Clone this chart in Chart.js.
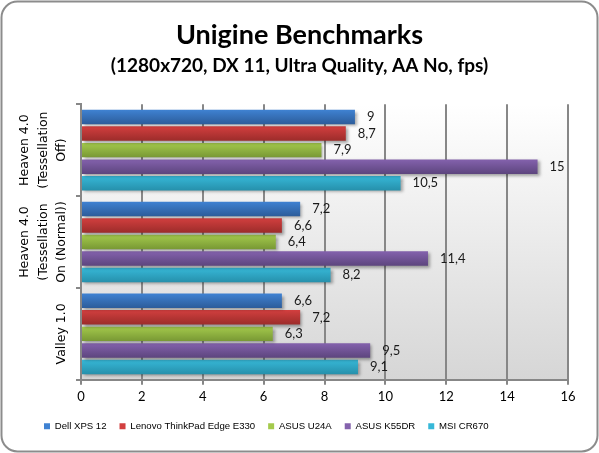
<!DOCTYPE html>
<html>
<head>
<meta charset="utf-8">
<script src="https://cdn.jsdelivr.net/npm/chart.js@4.4.0/dist/chart.umd.min.js"></script>
<style>
  body { margin: 0; background: #fff; }
  #wrap { width: 599px; height: 453px; }
</style>
</head>
<body>
<div id="wrap"><canvas id="bench" width="599" height="453"></canvas></div>
<script>
// data
var categories = [
  ["Heaven 4.0", "(Tessellation", "Off)"],
  ["Heaven 4.0", "(Tessellation", "On (Normal))"],
  ["Valley 1.0"]
];
var seriesNames = ["Dell XPS 12", "Lenovo ThinkPad Edge E330", "ASUS U24A", "ASUS K55DR", "MSI CR670"];
var dellXps12 = [9, 7.2, 6.6];
var lenovoE330 = [8.7, 6.6, 7.2];
var asusU24A = [7.9, 6.4, 6.3];
var asusK55DR = [15, 11.4, 9.5];
var msiCR670 = [10.5, 8.2, 9.1];
var xTicks = [0, 2, 4, 6, 8, 10, 12, 14, 16];

// top / bottom colours of the bar gradients
var barColours = [
  ["#3f82d2", "#2c5c9a"],
  ["#d23f3f", "#9c2c2a"],
  ["#a4ca4c", "#789834"],
  ["#8462ad", "#5d457e"],
  ["#37b8d8", "#2690ab"]
];

var allSeries = [dellXps12, lenovoE330, asusU24A, asusK55DR, msiCR670];

var frame = {
  id: "frame",
  beforeDraw: function(chart) {
    var c = chart.ctx;
    var a = chart.chartArea;
    c.save();
    c.fillStyle = "#fff";
    c.fillRect(0, 0, chart.width, chart.height);
    c.beginPath();
    c.roundRect(1.5, 1.5, chart.width - 3, chart.height - 3, 16);
    c.lineWidth = 2;
    c.strokeStyle = "#8c8c8c";
    c.stroke();
    var g = c.createLinearGradient(0, a.top, 0, a.bottom);
    g.addColorStop(0, "#ffffff");
    g.addColorStop(1, "#d6d6d6");
    c.fillStyle = g;
    c.fillRect(a.left, a.top, a.right - a.left, a.bottom - a.top);
    c.restore();
  },
  beforeDatasetDraw: function(chart, args) {
    var c = chart.ctx;
    var cols = barColours[args.index];
    args.meta.data.forEach(function(el) {
      var g = c.createLinearGradient(0, el.y - el.height / 2, 0, el.y + el.height / 2);
      g.addColorStop(0, cols[0]);
      g.addColorStop(1, cols[1]);
      el.options = Object.assign({}, el.options, { backgroundColor: g });
    });
    c.save();
    c.shadowColor = "rgba(0,0,0,0.35)";
    c.shadowOffsetX = 2;
    c.shadowOffsetY = 2;
    c.shadowBlur = 3;
  },
  afterDatasetDraw: function(chart) {
    chart.ctx.restore();
  },
  afterDatasetsDraw: function(chart) {
    var c = chart.ctx;
    c.save();
    c.font = "13px Lato";
    c.fillStyle = "#1a1a1a";
    c.textBaseline = "middle";
    chart.data.datasets.forEach(function(ds, i) {
      chart.getDatasetMeta(i).data.forEach(function(el, j) {
        c.fillText(String(ds.data[j]).replace(".", ","), el.x + 12, el.y);
      });
    });
    // category labels, rotated
    var y = chart.scales.y;
    c.font = "12.5px 'DejaVu Sans'";
    c.fillStyle = "#000";
    c.textAlign = "center";
    categories.forEach(function(lines, i) {
      var py = y.getPixelForValue(i);
      lines.forEach(function(t, k) {
        var px = 62 - (lines.length - 1 - k) * 18.5;
        c.save();
        c.translate(px, py);
        c.rotate(-Math.PI / 2);
        c.fillText(t, 0, 0);
        c.restore();
      });
    });
    c.restore();
  }
};

var datasets = seriesNames.map(function(name, i) {
  return {
    label: name,
    data: allSeries[i],
    backgroundColor: barColours[i][0],
    borderWidth: 0,
    categoryPercentage: 0.9,
    barPercentage: 0.875
  };
});

var ctx = document.getElementById("bench").getContext("2d");
var chart = new Chart(ctx, {
  type: "bar",
  data: { labels: categories.map(function(l) { return l.join(" "); }), datasets: datasets },
  options: {
    indexAxis: "y",
    responsive: false,
    animation: false,
    layout: { padding: { left: 31, right: 31, top: 0, bottom: 12 } },
    scales: {
      x: {
        min: 0,
        max: 16,
        afterBuildTicks: function(scale) {
          scale.ticks = xTicks.map(function(v) { return { value: v }; });
        },
        grid: { color: "#878787", lineWidth: 2, tickLength: 5 },
        border: { color: "#878787", width: 2 },
        ticks: { color: "#000", font: { family: "Lato", size: 13 }, padding: 4 }
      },
      y: {
        afterFit: function(scale) { scale.width = 50; },
        grid: { drawOnChartArea: false, color: "#878787", lineWidth: 2, tickLength: 5 },
        border: { color: "#878787", width: 2 },
        ticks: { display: false }
      }
    },
    plugins: {
      title: {
        display: true,
        text: "Unigine Benchmarks",
        color: "#000",
        font: { family: "Lato", size: 27, weight: "bold" },
        padding: { top: 19, bottom: 3 }
      },
      subtitle: {
        display: true,
        text: "(1280x720, DX 11, Ultra Quality, AA No, fps)",
        color: "#000",
        font: { family: "Lato", size: 19, weight: "bold" },
        padding: { top: 0, bottom: 27 }
      },
      legend: {
        position: "bottom",
        align: "start",
        labels: {
          boxWidth: 6,
          boxHeight: 6,
          color: "#000",
          font: { family: "Liberation Sans", size: 9.6 },
          padding: 13
        }
      },
      tooltip: { enabled: false }
    }
  },
  plugins: [frame]
});
</script>
</body>
</html>
